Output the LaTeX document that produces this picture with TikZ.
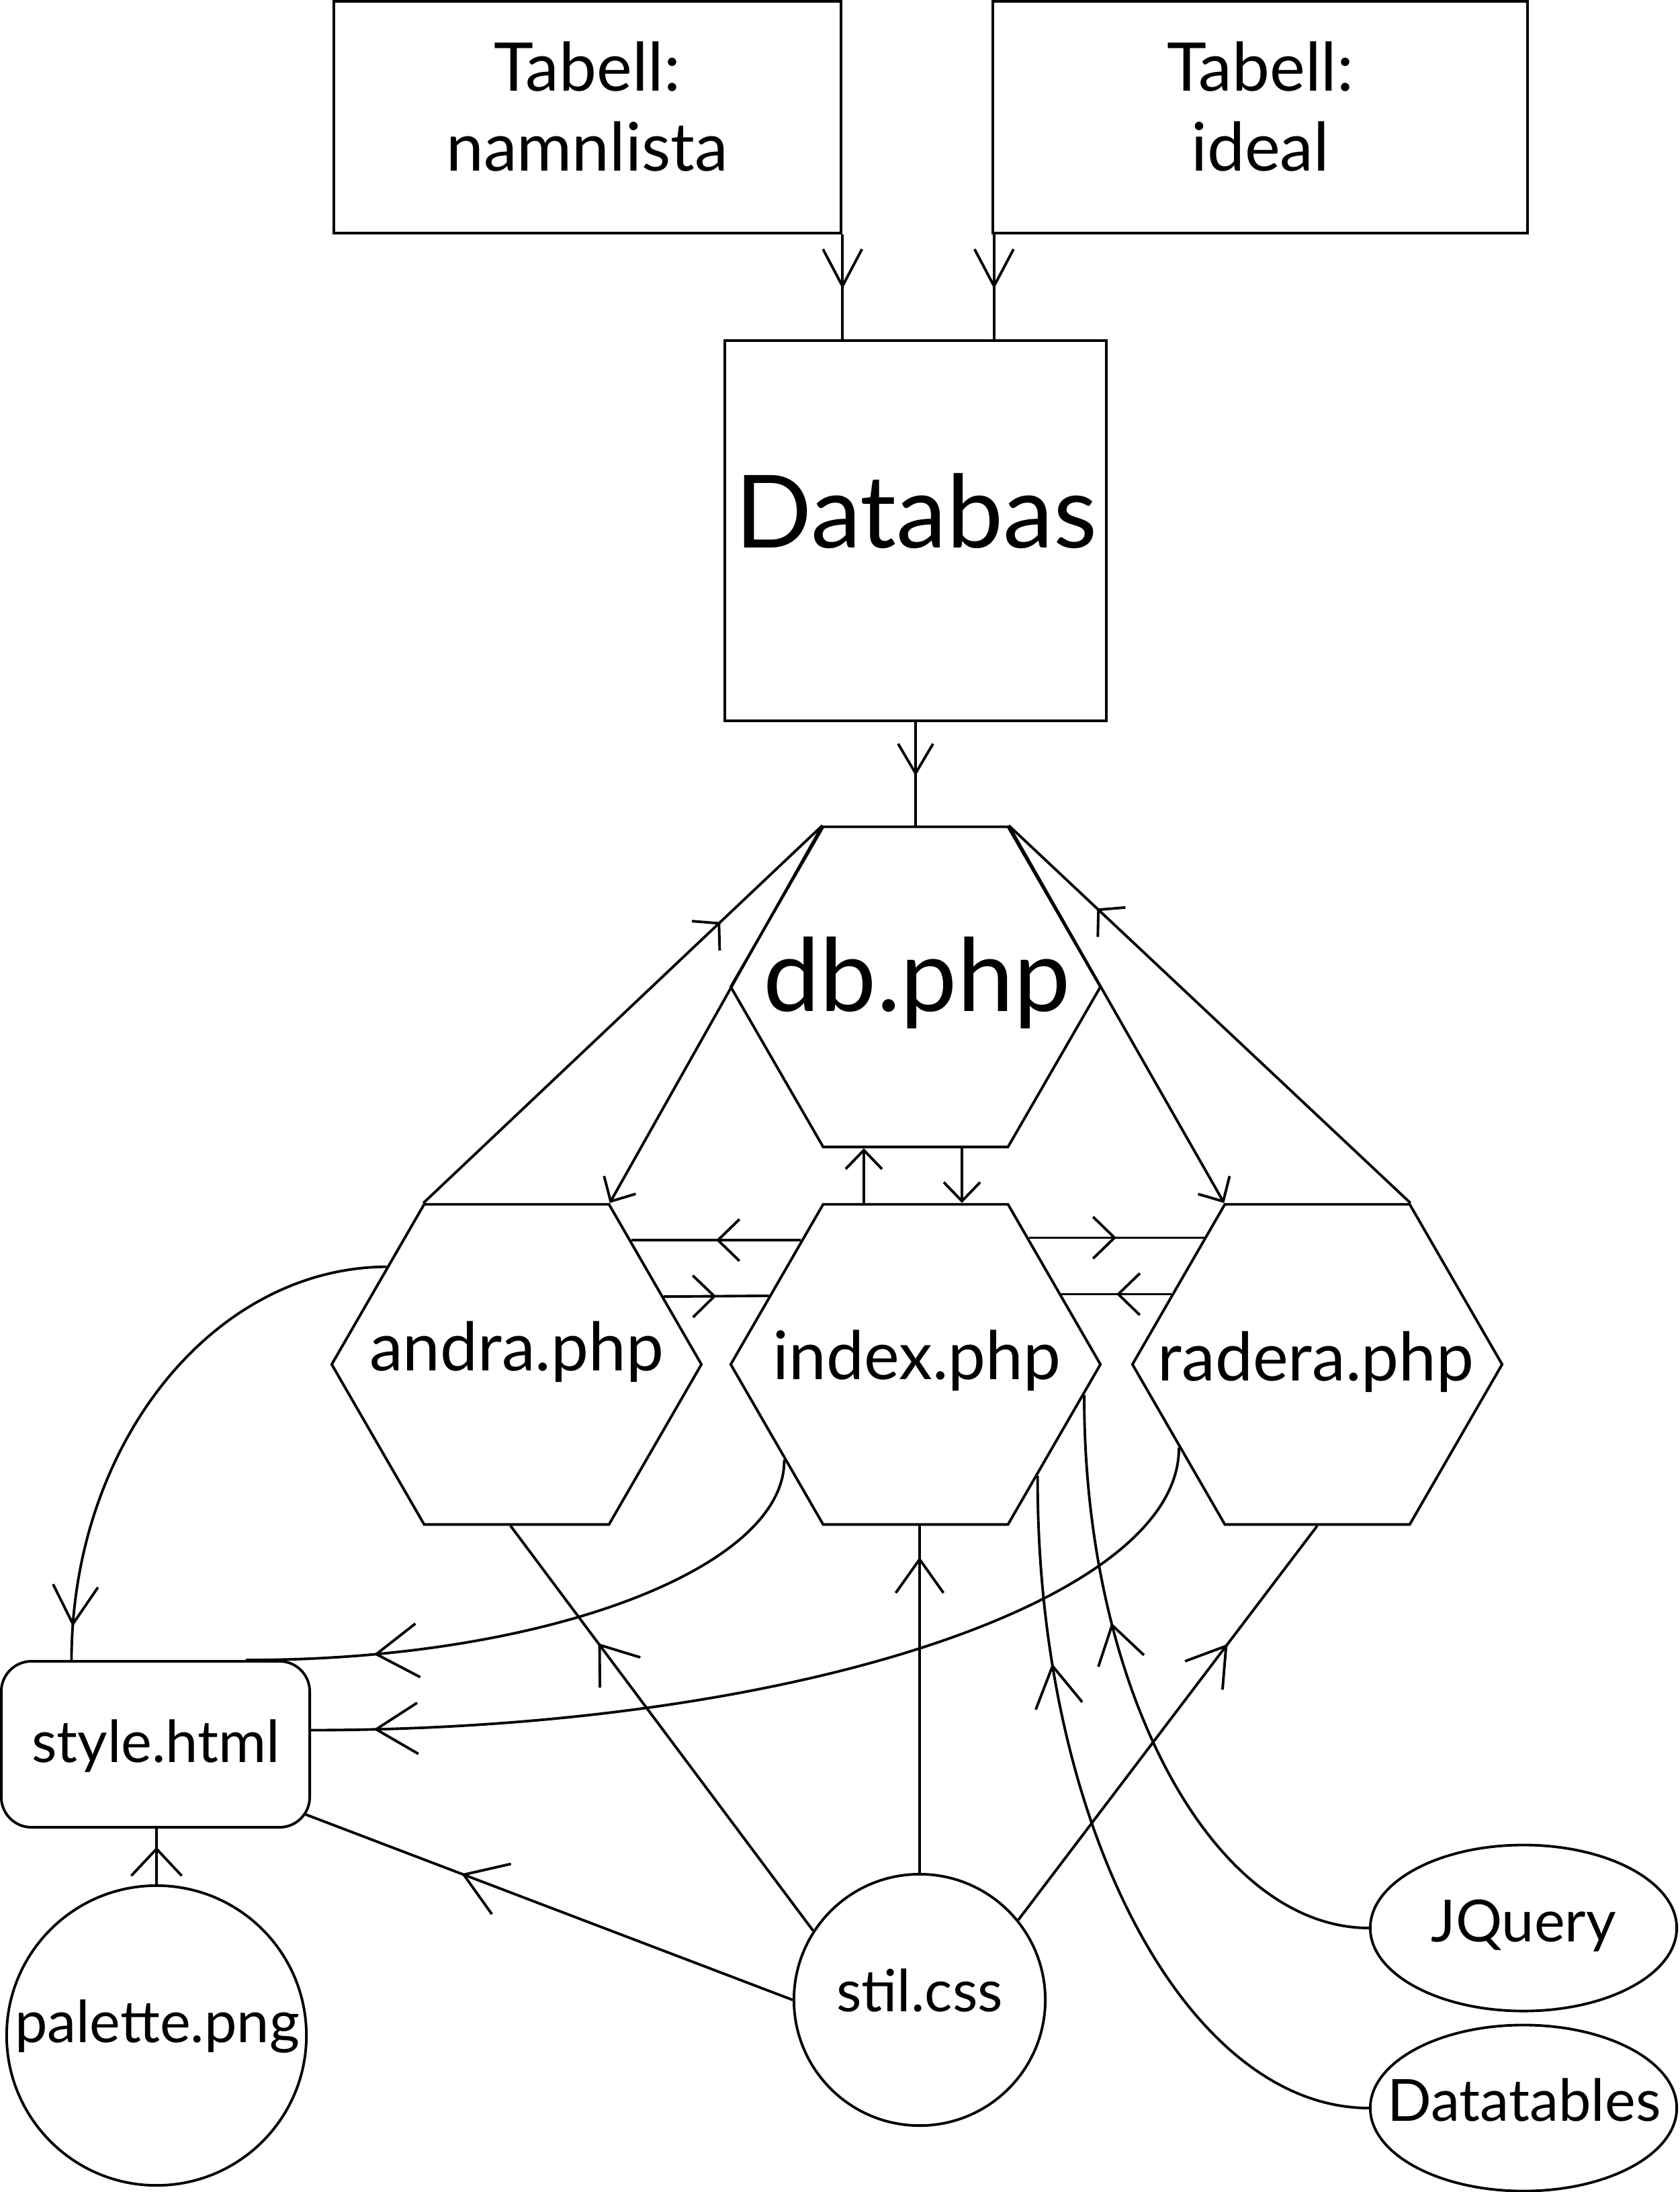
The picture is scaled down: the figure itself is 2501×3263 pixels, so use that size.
\documentclass[tikz,border=0pt]{standalone}
\usepackage{fontspec}
\setmainfont{Lato}
\usetikzlibrary{shapes.geometric,arrows.meta,decorations.markings,calc}
\begin{document}
\begin{tikzpicture}[x=0.01cm,y=-0.01cm,line width=1.1pt,
  boxn/.style={draw,rectangle,inner sep=0pt},
  hexn/.style={draw,regular polygon,regular polygon sides=6,minimum size=5.5cm,inner sep=0pt},
  circn/.style={draw,circle,inner sep=0pt},
  ellin/.style={draw,ellipse,inner sep=0pt,minimum width=4.56cm,minimum height=2.47cm},
  big/.style={font=\fontsize{42.8}{50}\selectfont,anchor=base,inner sep=0pt},
  med/.style={font=\fontsize{28.4}{34}\selectfont,anchor=base,inner sep=0pt},
  sml/.style={font=\fontsize{24.6}{29}\selectfont,anchor=base,inner sep=0pt},
  midarr/.style n args={3}{postaction={decorate},decoration={markings,mark=at position #1 with {\arrow{Straight Barb[length=#2,width=#3]}}}},
  endarr/.style={-{Straight Barb[length=0.28cm,width=0.54cm]}}]
\useasboundingbox (0,0) rectangle (2501,3263);

% boxes
\node[boxn,minimum width=7.55cm,minimum height=3.45cm] (nam) at (874.5,174.5) {};
\node[med] (namt1) at (874,135) {Tabell:};
\node[med] (namt2) at (874,254) {namnlista};
\node[boxn,minimum width=7.96cm,minimum height=3.45cm] (ide) at (1876,174.5) {};
\node[med] (idet1) at (1876,135) {Tabell:};
\node[med] (idet2) at (1876,254) {ideal};
\node[boxn,minimum width=5.68cm,minimum height=5.66cm] (dbase) at (1363,790) {};
\node[big] (dbaset) at (1364,815) {Databas};

% hexagons
\node[hexn] (db) at (1363,1469) {};
\node[big] (dbt) at (1365,1505) {db.php};
\node[hexn] (andra) at (769,2031) {};
\node[med] (andrat) at (769,2040) {andra.php};
\node[hexn] (index) at (1363,2031) {};
\node[med] (indext) at (1365,2053) {index.php};
\node[hexn] (radera) at (1961,2031) {};
\node[med] (raderat) at (1959,2055) {radera.php};

% lower nodes
\node[boxn,rounded corners=0.45cm,minimum width=4.59cm,minimum height=2.47cm] (style) at (231.5,2596.5) {};
\node[sml] (stylet) at (232,2623) {style.html};
\node[circn,minimum size=4.46cm] (palette) at (233,3030) {};
\node[sml] (palettet) at (234,3040) {palette.png};
\node[circn,minimum size=3.74cm] (stil) at (1369,2977) {};
\node[sml] (stilt) at (1369,2994) {stil.css};
\node[ellin] (jq) at (2268,2870) {};
\node[sml] (jqt) at (2268,2890) {JQuery};
\node[ellin] (dt) at (2268,3138) {};
\node[sml] (dtt) at (2269,3157) {Datatables};

% top connectors
\draw[midarr={0.52}{0.55cm}{0.58cm}] (nam.south east) -- (nam.south east |- dbase.north);
\draw[midarr={0.52}{0.55cm}{0.58cm}] ([xshift=0.04cm]ide.south west) -- ([xshift=0.04cm]ide.south west |- dbase.north);
\draw[midarr={0.52}{0.44cm}{0.52cm}] (dbase.south) -- (db.north);

% db <-> andra / radera
\draw[midarr={0.744}{0.27cm}{0.6cm}] (andra.120) -- (db.120);
\draw[endarr] (db.120) -- (andra.60);
\draw[midarr={0.78}{0.27cm}{0.6cm}] (radera.60) -- (db.60);
\draw[endarr] (db.60) -- (radera.120);

% db <-> index
\draw[endarr] ([xshift=-0.77cm]index.north) -- ([xshift=-0.77cm]db.south);
\draw[endarr] ([xshift=0.69cm]db.south) -- ([xshift=0.69cm]index.north);

% horizontal links
\draw[midarr={0.5}{0.32cm}{0.62cm}] ($(index.120)!0.23!(index.180)$) -- ($(andra.60)!0.23!(andra.0)$);
\draw[midarr={0.5}{0.32cm}{0.62cm}] ($(andra.60)!0.58!(andra.0)$) -- ($(index.120)!0.575!(index.180)$);
\draw[midarr={0.5}{0.32cm}{0.62cm}] ($(index.60)!0.215!(index.0)$) -- ($(radera.120)!0.215!(radera.180)$);
\draw[midarr={0.5}{0.32cm}{0.62cm}] ($(radera.120)!0.565!(radera.180)$) -- ($(index.60)!0.565!(index.0)$);

% curves to style.html
\draw[midarr={0.94}{0.57cm}{0.67cm}] ($(andra.120)!0.395!(andra.180)$) .. controls (317,1887) and (107,2149) .. ($(style.north west)!0.23!(style.north east)$);
\draw[midarr={0.79}{0.62cm}{0.8cm}] ($(index.180)!0.59!(index.240)$) .. controls (1170,2335) and (808,2472) .. ($(style.north west)!0.79!(style.north east)$);
\draw[midarr={0.935}{0.62cm}{0.76cm}] ($(radera.180)!0.515!(radera.240)$) .. controls (1757,2385) and (1175,2575) .. ([yshift=0.21cm]style.east);

% stil.css links
\draw[midarr={0.71}{0.51cm}{0.75cm}] (stil.147) -- ([xshift=-0.09cm]andra.south);
\draw[midarr={0.91}{0.5cm}{0.71cm}] (stil.north) -- (stil.north |- index.south);
\draw[midarr={0.70}{0.55cm}{0.7cm}] (stil.39) -- (radera.south);
\draw[midarr={0.68}{0.6cm}{0.8cm}] (stil.west) -- ([xshift=-0.08cm,yshift=0.21cm]style.south east);

% palette -> style
\draw[midarr={0.67}{0.4cm}{0.75cm}] (palette.north) -- (palette.north |- style.south);

% libraries -> index
\draw[midarr={0.757}{0.6cm}{0.7cm}] (dt.west) .. controls (1765,3138) and (1543,2714) .. ($(index.0)!0.69!(index.300)$);
\draw[midarr={0.65}{0.55cm}{0.7cm}] (jq.west) .. controls (1804,2870) and (1613,2511) .. ($(index.0)!0.19!(index.300)$);
\end{tikzpicture}
\end{document}
